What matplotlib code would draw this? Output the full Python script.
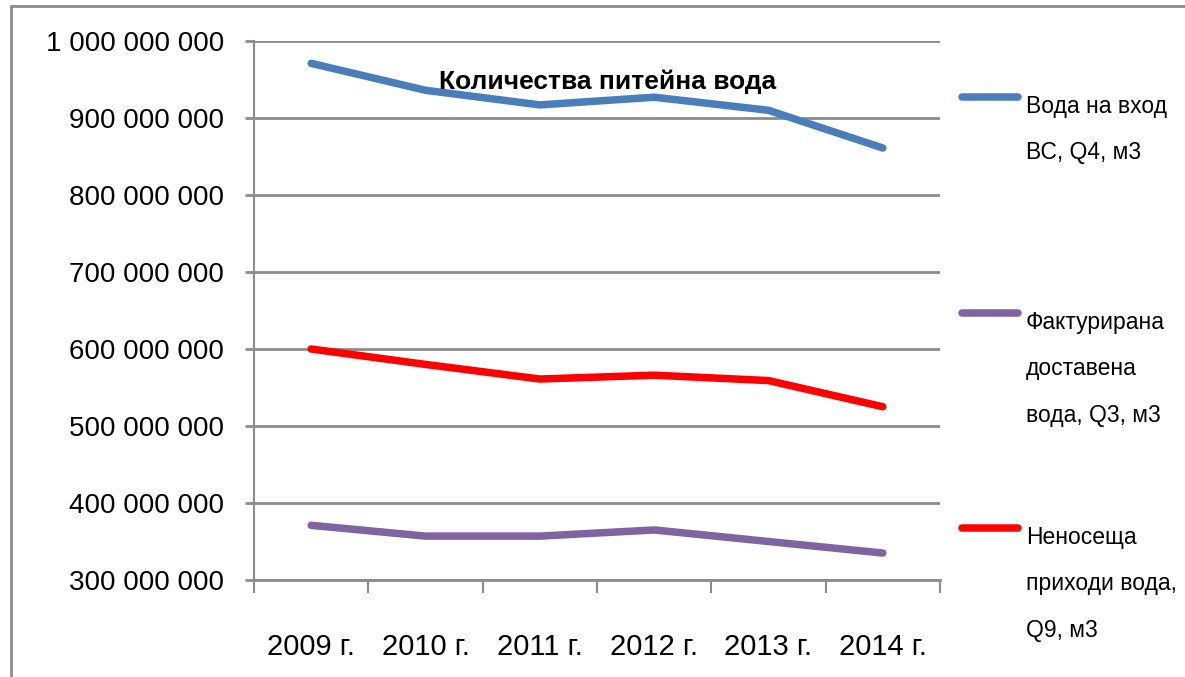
import matplotlib
matplotlib.use('Agg')
import matplotlib.pyplot as plt
from matplotlib.lines import Line2D
from matplotlib.patches import Rectangle

plt.rcParams['font.family'] = ['Liberation Sans', 'DejaVu Sans']

# data
years = ['2009 г.', '2010 г.', '2011 г.', '2012 г.', '2013 г.', '2014 г.']
q4_input = [971e6, 936e6, 917e6, 927e6, 910e6, 861e6]
q3_billed = [371e6, 357e6, 357e6, 365e6, 350e6, 335e6]
q9_nonrevenue = [600e6, 580e6, 561e6, 566e6, 559e6, 525e6]

y_ticks = [300e6, 400e6, 500e6, 600e6, 700e6, 800e6, 900e6, 1000e6]
y_labels = ['300 000 000', '400 000 000', '500 000 000', '600 000 000',
            '700 000 000', '800 000 000', '900 000 000', '1 000 000 000']

series = [
    ('Вода на вход\nВС, Q4, м3', q4_input, '#4A7EBB'),
    ('Фактурирана\nдоставена\nвода, Q3, м3', q3_billed, '#8064A2'),
    ('Неносеща\nприходи вода,\nQ9, м3', q9_nonrevenue, '#FF0000'),
]

W, H = 1185, 677
fig = plt.figure(figsize=(W / 100, H / 100), dpi=100)
ax = fig.add_axes([254 / W, 1 - 580 / H, (940 - 254) / W, (580 - 41) / H])

grid_col = '#8c8c8c'
x = list(range(len(years)))
for label, vals, col in series:
    ax.plot(x, vals, color=col, linewidth=5.4, solid_capstyle='round',
            solid_joinstyle='round', zorder=3)

ax.set_xlim(-0.5, len(years) - 0.5)
ax.set_ylim(y_ticks[0], y_ticks[-1])
ax.set_yticks(y_ticks)
ax.set_yticklabels(y_labels)
ax.yaxis.grid(True, color=grid_col, linewidth=2)
ax.set_axisbelow(True)

# category boundaries get tick marks, labels sit at the centres
ax.set_xticks([i - 0.5 for i in range(len(years) + 1)])
ax.set_xticklabels([])
ax.set_xticks(x, minor=True)
ax.set_xticklabels(years, minor=True)
ax.tick_params(axis='x', which='major', length=9.5, width=1.5, color=grid_col)
ax.tick_params(axis='x', which='minor', length=0, pad=38, labelsize=21)
ax.tick_params(axis='y', length=6.5, width=2, color=grid_col, pad=15, labelsize=20)

for s in ['top', 'right']:
    ax.spines[s].set_visible(False)
ax.spines['left'].set_color(grid_col)
ax.spines['left'].set_linewidth(1.5)
ax.spines['bottom'].set_color(grid_col)
ax.spines['bottom'].set_linewidth(2)

ax.text(0.516, 0.924, 'Количества питейна вода', transform=ax.transAxes,
        ha='center', va='center', fontsize=19, fontweight='bold', zorder=4)

# legend drawn by hand so each key lines up with the first text line
legend_y = [97, 313, 528]
for (label, vals, col), ly in zip(series, legend_y):
    fy = 1 - ly / H
    fig.add_artist(Line2D([962 / W, 1018 / W], [fy, fy], color=col,
                          linewidth=5.4, solid_capstyle='round'))
    fig.text(1026 / W, fy + 2 / H, label, ha='left', va='top',
             fontsize=16.5, linespacing=2.3)

# outer chart border
fig.add_artist(Rectangle((11 / W, -0.1), 1.2, 1 - 6 / H + 0.1,
                         transform=fig.transFigure, fill=False,
                         edgecolor=grid_col, linewidth=2))

fig.savefig('out.png', dpi=100)
